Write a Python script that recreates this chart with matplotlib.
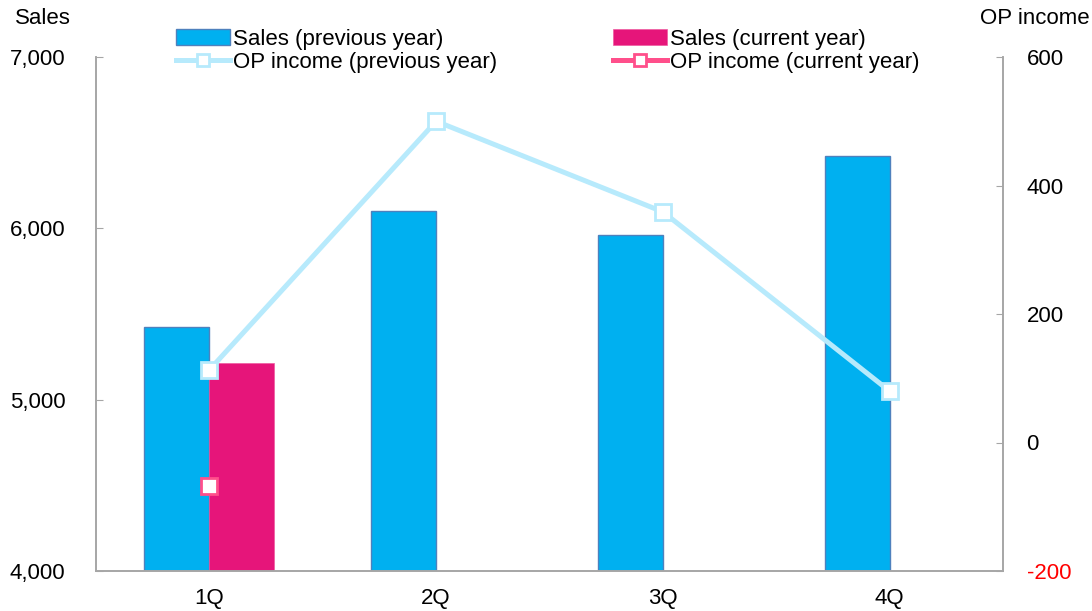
import matplotlib.pyplot as plt
import numpy as np

plt.rcParams['font.family'] = ['Liberation Sans', 'DejaVu Sans']
plt.rcParams['axes.unicode_minus'] = False

quarters = ['1Q', '2Q', '3Q', '4Q']
sales_prev = [5424, 6101, 5961, 6423]
sales_cur = [5214]
op_prev = [113, 500, 359, 80]
op_cur = [-68]

x = np.arange(len(quarters))
w = 0.287
grey = '#A6A6A6'
fs = 16

fig = plt.figure(figsize=(10.92, 6.11), dpi=100)
ax = fig.add_axes([96/1092, 1 - 571/611, (1003-96)/1092, (571-57)/611])
ax2 = ax.twinx()

b1 = ax.bar(x - w/2, sales_prev, w, color='#00B0F0', edgecolor='#4F81BD', linewidth=1, zorder=2)
b2 = ax.bar(x[:len(sales_cur)] + w/2, sales_cur, w, color='#E6157A', edgecolor='#EE5AA0', linewidth=0.5, zorder=2)
ax.set_ylim(4000, 7000)
ax.set_xlim(-0.5, 3.5)
ax.set_yticks([4000, 5000, 6000, 7000])
ax.set_yticklabels(['{:,}'.format(v) for v in [4000, 5000, 6000, 7000]])
ax.set_xticks(x)
ax.set_xticklabels(quarters)

l1, = ax2.plot(x, op_prev, color='#B7EAFC', linewidth=3.6, marker='s', markersize=12,
               markerfacecolor='white', markeredgecolor='#B7EAFC', markeredgewidth=2, zorder=3)
l2, = ax2.plot(x[:len(op_cur)], op_cur, color='#FF4F8B', linewidth=3.6, marker='s', markersize=12,
               markerfacecolor='white', markeredgecolor='#FF4F8B', markeredgewidth=2, zorder=3)
ax2.set_ylim(-200, 600)
ax2.set_yticks([-200, 0, 200, 400, 600])
ax.set_zorder(ax2.get_zorder() - 1)
ax.patch.set_visible(False)

for a in (ax, ax2):
    a.spines['top'].set_visible(False)
    for s in ('left', 'right', 'bottom'):
        a.spines[s].set_color(grey)
        a.spines[s].set_linewidth(1.2)
    a.tick_params(axis='y', direction='in', length=5, color=grey, labelsize=fs)
    a.tick_params(axis='x', length=0, labelsize=fs, pad=12)
ax.tick_params(axis='y', pad=22)
ax2.tick_params(axis='y', pad=17)
ax2.get_yticklabels()[0].set_color('red')

fig.text(15/1092, 1 - 18/611, 'Sales', fontsize=fs, ha='left', va='center')
fig.text(1090/1092, 1 - 18/611, 'OP income', fontsize=fs, ha='right', va='center')

fig.legend([b1, l1, b2, l2],
           ['Sales (previous year)', 'OP income (previous year)', 'Sales (current year)', 'OP income (current year)'],
           ncol=2, loc='upper left', bbox_to_anchor=(176/1092, 1 - 29/611), frameon=False,
           fontsize=fs, handlelength=2.43, handletextpad=0.14, columnspacing=5.2,
           labelspacing=0.1, borderpad=0, borderaxespad=0, markerscale=0.7)

fig.savefig('out.png', dpi=100)
